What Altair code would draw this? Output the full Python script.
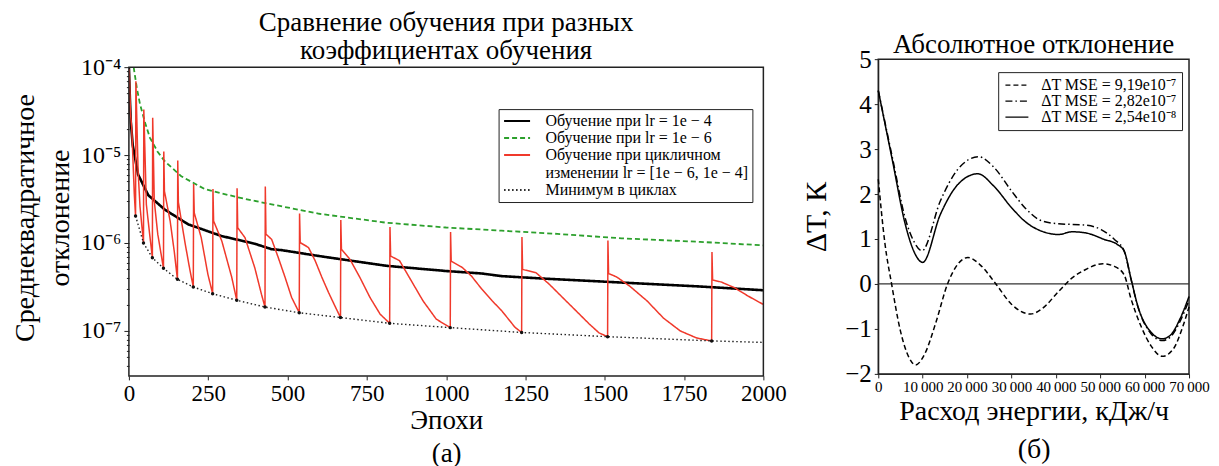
import altair as alt
import pandas as pd

FONT = "Liberation Serif"

# ---------------- Left panel data ----------------
S1 = "Обучение при lr = 1e − 4"
S2 = "Обучение при lr = 1e − 6"
S3 = "Обучение при цикличном изменении lr = [1e − 6, 1e − 4]"
S4 = "Минимум в циклах"

black_epochs = [0, 3, 6, 12, 29, 61, 113, 187, 292, 397, 450, 481, 600, 812,
                1000, 1112, 1175, 1300, 1553, 1800, 2000]
black_vals = [1.0e-4, 4.5e-5, 2.4e-5, 1.3e-5, 6.0e-6, 3.5e-6, 2.4e-6, 1.63e-6,
              1.2e-6, 9.8e-7, 8.5e-7, 8.3e-7, 7.1e-7, 5.5e-7, 4.8e-7, 4.5e-7,
              4.2e-7, 3.95e-7, 3.55e-7, 3.2e-7, 2.9e-7]

green_epochs = [15, 25, 35, 50, 66, 90, 113, 165, 239, 344, 450, 600, 812,
                1000, 1175, 1350, 1553, 1800, 2000]
green_vals = [1.0e-4, 5.8e-5, 3.8e-5, 2.4e-5, 1.58e-5, 1.1e-5, 8.5e-6, 5.75e-6,
              4.1e-6, 3.3e-6, 2.75e-6, 2.15e-6, 1.7e-6, 1.5e-6, 1.38e-6,
              1.27e-6, 1.13e-6, 1.03e-6, 9.4e-7]

red_epochs = [1, 5, 9, 17, 21,
              22, 29, 35, 46,
              47, 55, 65, 74,
              75, 80, 91, 109,
              110, 112, 130, 143, 153,
              154, 156, 177, 192, 203,
              204, 206, 228, 249, 264,
              265, 267, 293, 324, 340,
              341, 343, 366, 397, 418, 429,
              430, 432, 450, 471, 492, 513, 537,
              538, 540, 566, 587, 608, 629, 650, 667,
              668, 670, 697, 729, 760, 792, 822,
              823, 825, 853, 885, 927, 969, 1013,
              1014, 1016, 1050, 1080, 1112, 1145, 1175, 1217, 1238,
              1239, 1241, 1283, 1325, 1367, 1409, 1451, 1482, 1509,
              1510, 1512, 1538, 1580, 1633, 1685, 1738, 1790, 1837,
              1838, 1840, 1867, 1909, 1951, 2000]
red_vals = [9.5e-5, 3.0e-5, 2.0e-5, 3.6e-6, 2.03e-6,
            6.9e-5, 6.6e-6, 2.6e-6, 1.0e-6,
            3.3e-5, 2.75e-6, 1.3e-6, 6.8e-7,
            2.65e-5, 3.0e-6, 1.26e-6, 5.15e-7,
            1.1e-5, 3.9e-6, 1.78e-6, 8.0e-7, 3.86e-7,
            8.7e-6, 2.9e-6, 1.0e-6, 5.0e-7, 3.16e-7,
            4.7e-6, 2.2e-6, 1.15e-6, 4.4e-7, 2.65e-7,
            4.1e-6, 1.78e-6, 1.05e-6, 4.1e-7, 2.23e-7,
            4.2e-6, 1.49e-6, 1.15e-6, 5.2e-7, 2.6e-7, 1.87e-7,
            4.4e-6, 1.26e-6, 1.1e-6, 6.8e-7, 4.1e-7, 2.4e-7, 1.61e-7,
            2.16e-6, 1.01e-6, 8.9e-7, 6.3e-7, 4.1e-7, 2.75e-7, 1.9e-7, 1.42e-7,
            1.82e-6, 8.5e-7, 6.5e-7, 4.0e-7, 2.4e-7, 1.55e-7, 1.22e-7,
            1.52e-6, 7.1e-7, 6.3e-7, 4.0e-7, 2.2e-7, 1.36e-7, 1.09e-7,
            1.33e-6, 6.2e-7, 5.3e-7, 4.2e-7, 3.0e-7, 2.2e-7, 1.7e-7, 1.1e-7, 9.6e-8,
            1.17e-6, 5.0e-7, 4.6e-7, 3.4e-7, 2.4e-7, 1.7e-7, 1.2e-7, 9.5e-8, 8.6e-8,
            1.07e-6, 4.5e-7, 4.1e-7, 3.2e-7, 2.2e-7, 1.4e-7, 1.0e-7, 8.3e-8, 7.7e-8,
            7.9e-7, 3.8e-7, 3.6e-7, 3.1e-7, 2.5e-7, 2.0e-7]

min_epochs = [21, 46, 74, 109, 153, 203, 264, 340, 429, 537, 667, 822, 1013,
              1238, 1509, 1837]
min_vals = [2.03e-6, 1.0e-6, 6.8e-7, 5.15e-7, 3.86e-7, 3.16e-7, 2.65e-7,
            2.23e-7, 1.87e-7, 1.61e-7, 1.42e-7, 1.22e-7, 1.09e-7, 9.6e-8,
            8.6e-8, 7.7e-8]
min_end_epoch = 2000
min_end_val = 7.4e-8

# axis ranges of the left panel (frame) and tick values
x_range_left = [0, 2000]
y_range_left = [3.08e-8, 1e-4]
y_view_top = 1.233e-4        # headroom above the frame so the panel sits lower than the right one
x_ticks_left = [0, 250, 500, 750, 1000, 1250, 1500, 1750, 2000]
y_major = [1e-4, 1e-5, 1e-6, 1e-7]
y_minor = [m * 10.0 ** e for e in (-8, -7, -6, -5) for m in range(2, 10)]
y_ticks_left = sorted([v for v in y_major + y_minor if y_range_left[0] <= v <= y_range_left[1]])

# ---------------- Right panel data ----------------
R1 = "ΔT MSE = 9,19e10⁻⁷"
R2 = "ΔT MSE = 2,82e10⁻⁷"
R3 = "ΔT MSE = 2,54e10⁻⁸"

dashed_x = [0, 1500, 3000, 5000, 7000, 8400, 10500, 13000, 15600, 18000, 20200,
            23000, 26500, 30000, 34300, 36900, 40600, 43600, 46500, 50600,
            53200, 55400, 56900, 59100, 61400, 64000, 66500, 68700, 70000]
dashed_y = [2.33, 0.9, 0.0, -1.05, -1.65, -1.80, -1.55, -0.85, 0.0, 0.45, 0.59,
            0.42, 0.0, -0.45, -0.67, -0.55, -0.17, 0.13, 0.31, 0.45,
            0.39, 0.20, -0.32, -0.92, -1.37, -1.61, -1.44, -0.92, -0.51]

dashdot_x = [0, 3200, 6100, 8000, 9850, 14000, 18000, 22600, 26000, 30000,
             33180, 36900, 40600, 46500, 50200, 53200, 55400, 56900, 58400,
             61400, 64000, 65800, 68000, 70000]
dashdot_y = [4.30, 2.80, 1.45, 0.95, 0.74, 1.85, 2.56, 2.83, 2.60, 2.07,
             1.68, 1.40, 1.34, 1.31, 1.21, 0.99, 0.73, 0.12, -0.48,
             -1.10, -1.26, -1.18, -0.83, -0.36]

solid_x = [0, 3200, 6100, 8000, 10000, 14000, 18000, 22400, 26000, 30000,
           33180, 36900, 40600, 43600, 46500, 50900, 53900, 55400, 56900,
           58400, 61400, 64000, 65800, 68000, 70000]
solid_y = [4.30, 2.74, 1.32, 0.73, 0.48, 1.55, 2.22, 2.45, 2.18, 1.70,
           1.38, 1.17, 1.10, 1.16, 1.14, 0.99, 0.875, 0.73, 0.13,
           -0.47, -1.07, -1.22, -1.14, -0.77, -0.28]

x_ticks_right = [0, 10000, 20000, 30000, 40000, 50000, 60000, 70000]
y_ticks_right = [-2, -1, 0, 1, 2, 3, 4, 5]

# ---------------- Build tables ----------------
left_df = pd.concat([
    pd.DataFrame({"epoch": green_epochs, "mse": green_vals, "series": S2}),
    pd.DataFrame({"epoch": black_epochs, "mse": black_vals, "series": S1}),
    pd.DataFrame({"epoch": red_epochs, "mse": red_vals, "series": S3}),
    pd.DataFrame({"epoch": min_epochs + [min_end_epoch],
                  "mse": min_vals + [min_end_val], "series": S4}),
], ignore_index=True)
dots_df = pd.DataFrame({"epoch": min_epochs, "mse": min_vals})
frame_df = pd.DataFrame({"x0": [x_range_left[0]], "x1": [x_range_left[1]],
                         "y0": [y_range_left[0]], "y1": [y_range_left[1]]})

dom_left = [S1, S2, S3, S4]
LINE_SYMBOL = "M-1,0H3"   # a horizontal stroke, longer than the nominal symbol box


def left_legend():
    return alt.Legend(
        orient="none", legendX=370, legendY=50, direction="vertical",
        fillColor="white", strokeColor="#222", padding=4, cornerRadius=0,
        labelFont=FONT, labelFontSize=16, labelLimit=400, rowPadding=1,
        labelOffset=27, symbolType=LINE_SYMBOL, symbolSize=169, symbolStrokeWidth=2,
        labelExpr=("datum.label == '" + S3 + "' ? ['Обучение при цикличном', "
                   "'изменении lr = [1e − 6, 1e − 4]'] : datum.label"),
    )


color_left = alt.Color(
    "series:N", title=None,
    scale=alt.Scale(domain=dom_left, range=["#000000", "#2ca02c", "#f0392b", "#222222"]),
    legend=left_legend(),
)
dash_left = alt.StrokeDash(
    "series:N", title=None,
    scale=alt.Scale(domain=dom_left, range=[[1, 0], [5, 3], [1, 0], [1.5, 2.5]]),
    legend=left_legend(),
)

L = "log(datum.value)/LN10"
is_major = f"abs({L} - round({L})) < 0.01"
label_expr = (f"!({is_major}) ? '' : round({L}) == -4 ? '10⁻⁴' : round({L}) == -5 ? '10⁻⁵' : "
              f"round({L}) == -6 ? '10⁻⁶' : round({L}) == -7 ? '10⁻⁷' : ''")

x_left = alt.X("epoch:Q", scale=alt.Scale(domain=x_range_left, nice=False),
               axis=alt.Axis(values=x_ticks_left, format="d", title=["Эпохи", "(а)"],
                             titleFontSize=27, titleLineHeight=33, titlePadding=2,
                             labelFontSize=23, labelFlush=False, grid=False, tickSize=4,
                             labelPadding=3, domain=False))
y_left = alt.Y("mse:Q", scale=alt.Scale(type="log", domain=[y_range_left[0], y_view_top], nice=False),
               axis=alt.Axis(values=y_ticks_left, labelExpr=label_expr, labelOverlap=False,
                             title=["Среднеквадратичное", "отклонение"], titleFontSize=28,
                             titleLineHeight=35, titlePadding=6, labelFontSize=24,
                             labelPadding=3, grid=False, domain=False,
                             tickSize={"condition": {"test": is_major, "value": 5}, "value": 2.5}))

base_left = alt.Chart(left_df)
layers_left = []
for s, w in [(S2, 1.8), (S1, 2.6), (S3, 1.5), (S4, 1.4)]:
    layers_left.append(
        base_left.transform_filter(alt.datum.series == s)
        .mark_line(strokeWidth=w, clip=True)
        .encode(x=x_left, y=y_left, color=color_left, strokeDash=dash_left, order="epoch:Q")
    )
dots = alt.Chart(dots_df).mark_point(filled=True, color="#111", size=12, opacity=1).encode(
    x="epoch:Q", y="mse:Q")
frame = alt.Chart(frame_df).mark_rect(filled=False, stroke="#222", strokeWidth=1.5).encode(
    x="x0:Q", x2="x1:Q", y="y0:Q", y2="y1:Q")

left = alt.layer(*layers_left, dots, frame).properties(
    width=635, height=317,
    view=alt.ViewConfig(stroke="transparent"),
    title=alt.TitleParams(["Сравнение обучения при разных", "коэффициентах обучения"],
                          fontSize=27, lineHeight=28, offset=-10, font=FONT,
                          fontWeight="normal", anchor="middle"),
)

# ---------------- Right panel ----------------
right_df = pd.concat([
    pd.DataFrame({"x": dashed_x, "y": dashed_y, "curve": R1}),
    pd.DataFrame({"x": dashdot_x, "y": dashdot_y, "curve": R2}),
    pd.DataFrame({"x": solid_x, "y": solid_y, "curve": R3}),
], ignore_index=True)
zero_df = pd.DataFrame({"y": [0]})

dom_right = [R1, R2, R3]
leg_right = alt.Legend(
    orient="none", legendX=120, legendY=13, direction="vertical",
    fillColor="white", strokeColor="#222", padding=5, cornerRadius=0,
    labelFont=FONT, labelFontSize=16, labelLimit=400, rowPadding=0, labelOffset=22,
    symbolType=LINE_SYMBOL, symbolSize=132, symbolStrokeWidth=1.4, symbolStrokeColor="black")

x_right = alt.X("x:Q", scale=alt.Scale(domain=[0, 70000], nice=False),
                axis=alt.Axis(values=x_ticks_right, title=["Расход энергии, кДж/ч", "(б)"],
                              titleFontSize=28, titleLineHeight=38, titlePadding=3,
                              labelFontSize=15, labelFlush=False, grid=False, tickSize=4,
                              labelPadding=2,
                              labelExpr="datum.value == 0 ? '0' : replace(format(datum.value, ','), ',', '\u2009')"))
y_right = alt.Y("y:Q", scale=alt.Scale(domain=[-2, 5], nice=False),
                axis=alt.Axis(values=y_ticks_right, title="ΔT, К", titleFontSize=30,
                              titlePadding=13, labelFontSize=25, labelPadding=3, grid=False,
                              tickSize=4, format="d"))

zero_rule = alt.Chart(zero_df).mark_rule(color="#333", strokeWidth=1.3).encode(y="y:Q")
lines_right = alt.Chart(right_df).mark_line(color="black", strokeWidth=1.5,
                                            interpolate="monotone").encode(
    x=x_right, y=y_right,
    strokeDash=alt.StrokeDash("curve:N", title=None,
                              scale=alt.Scale(domain=dom_right,
                                              range=[[5, 3], [7, 3, 1.5, 3], [1, 0]]),
                              legend=leg_right),
    detail="curve:N",
)
right = alt.layer(zero_rule, lines_right).properties(
    width=311, height=315,
    view=alt.ViewConfig(stroke="#222", strokeWidth=1.5),
    title=alt.TitleParams("Абсолютное отклонение", fontSize=27,
                          offset=-12, font=FONT, fontWeight="normal", anchor="middle"),
)

chart = alt.hconcat(left, right, spacing=13).resolve_scale(
    strokeDash="independent", color="independent"
).resolve_legend(strokeDash="independent", color="independent").properties(
    padding={"left": 3, "top": 0, "right": 0, "bottom": 0}
).configure_axis(
    labelFont=FONT, titleFont=FONT, labelColor="black", titleColor="black",
    domainColor="#222", tickColor="#222", titleFontWeight="normal",
).configure_legend(labelFont=FONT)

chart.save("out.html", embed_options={"renderer": "svg", "actions": False})
